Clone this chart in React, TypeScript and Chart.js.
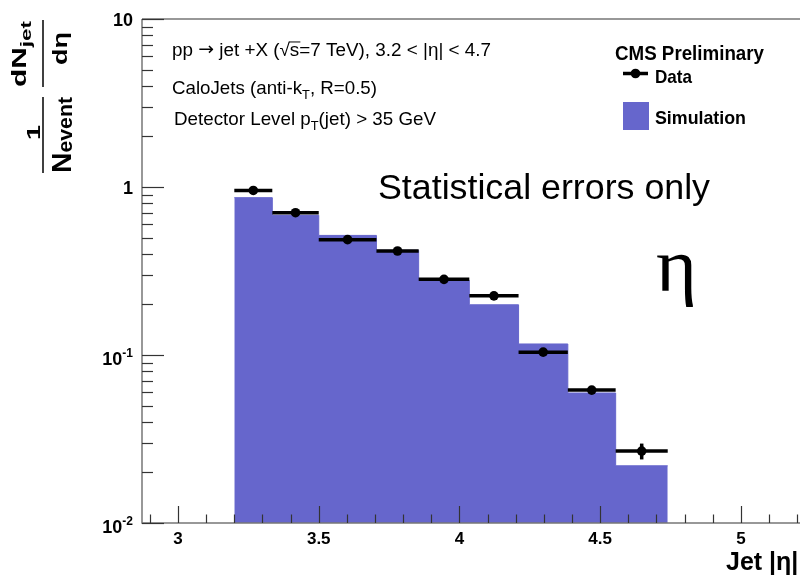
import React, { useEffect, useRef } from "react";
import { Chart, registerables } from "chart.js";

Chart.register(...registerables);

// ---- data ----
const binEdges = [3.2, 3.335, 3.5, 3.705, 3.855, 4.035, 4.21, 4.385, 4.555, 4.74];
const simValues = [0.864, 0.678, 0.515, 0.42, 0.278, 0.199, 0.1163, 0.0594, 0.0219];
const dataValues = [0.954, 0.703, 0.486, 0.416, 0.282, 0.225, 0.104, 0.0618, 0.0268];
const dataErrors = [0.004, 0.004, 0.003, 0.003, 0.002, 0.002, 0.0012, 0.0009, 0.0029];
const xTickValues = [3, 3.5, 4, 4.5, 5];
const xTickLabels = ["3", "3.5", "4", "4.5", "5"];
const yMajorTicks = [0.01, 0.1, 1, 10];
const yTickBase = ["10", "10", "1", "10"];
const yTickExp = ["-2", "-1", "", ""];

const X_MIN = 2.872;
const X_MAX = 5.21;
const Y_MIN = 0.01;
const Y_MAX = 10;

const SANS = '"Liberation Sans", Arial, Helvetica, sans-serif';
const SERIF = '"Liberation Serif", "Times New Roman", serif';
const DEJAVU = '"DejaVu Sans", sans-serif';
const SIM_COLOR = "rgb(102,102,204)";

type Seg = { t: string; size: number; bold?: boolean; dy?: number; family?: string; overline?: boolean };

function fontOf(s: Seg) {
  return `${s.bold ? "bold " : ""}${s.size}px ${s.family || SANS}`;
}

function drawRich(
  ctx: CanvasRenderingContext2D,
  segs: Seg[],
  x: number,
  y: number,
  targetW?: number,
  align: "left" | "right" | "center" = "left"
) {
  const widths = segs.map((s) => {
    ctx.font = fontOf(s);
    return ctx.measureText(s.t).width;
  });
  const total = widths.reduce((a, b) => a + b, 0);
  const sx = targetW ? targetW / total : 1;
  ctx.save();
  ctx.translate(x, y);
  ctx.scale(sx, 1);
  ctx.textBaseline = "alphabetic";
  ctx.textAlign = "left";
  let cx = align === "right" ? -total : align === "center" ? -total / 2 : 0;
  segs.forEach((s, i) => {
    ctx.font = fontOf(s);
    ctx.fillText(s.t, cx, s.dy || 0);
    if (s.overline) {
      ctx.beginPath();
      ctx.lineWidth = 1;
      const oy = (s.dy || 0) - s.size * 0.78;
      ctx.moveTo(cx - 1, oy);
      ctx.lineTo(cx + widths[i] + 1, oy);
      ctx.stroke();
    }
    cx += widths[i];
  });
  ctx.restore();
}

const decorPlugin = {
  id: "rootDecor",
  beforeDatasetDraw(chart: any, args: any) {
    if (args.index !== 0) return;
    const ctx: CanvasRenderingContext2D = chart.ctx;
    const xs = chart.scales.x;
    const ys = chart.scales.y;
    ctx.save();
    ctx.strokeStyle = "#000";
    ctx.lineWidth = 3.5;
    dataValues.forEach((v, i) => {
      const y = ys.getPixelForValue(v);
      ctx.beginPath();
      ctx.moveTo(xs.getPixelForValue(binEdges[i]), y);
      ctx.lineTo(xs.getPixelForValue(binEdges[i + 1]), y);
      ctx.stroke();
      const xc = xs.getPixelForValue((binEdges[i] + binEdges[i + 1]) / 2);
      ctx.beginPath();
      ctx.moveTo(xc, ys.getPixelForValue(v + dataErrors[i]));
      ctx.lineTo(xc, ys.getPixelForValue(v - dataErrors[i]));
      ctx.stroke();
    });
    ctx.restore();
  },
  afterDraw(chart: any) {
    const ctx: CanvasRenderingContext2D = chart.ctx;
    const xs = chart.scales.x;
    const ys = chart.scales.y;
    const a = chart.chartArea;
    ctx.save();
    // frame
    ctx.strokeStyle = "#777";
    ctx.lineWidth = 1.5;
    ctx.beginPath();
    ctx.moveTo(a.left, a.top);
    ctx.lineTo(a.right, a.top);
    ctx.moveTo(a.left, a.top);
    ctx.lineTo(a.left, a.bottom);
    ctx.lineTo(a.right, a.bottom);
    ctx.stroke();

    // x ticks (inside)
    ctx.strokeStyle = "#333";
    ctx.lineWidth = 1.2;
    for (let k = Math.ceil(X_MIN * 10); k <= Math.floor(X_MAX * 10); k++) {
      const px = Math.round(xs.getPixelForValue(k / 10)) + 0.5;
      const len = k % 5 === 0 ? 17 : 8.5;
      ctx.beginPath();
      ctx.moveTo(px, a.bottom);
      ctx.lineTo(px, a.bottom - len);
      ctx.stroke();
    }
    // y ticks (inside)
    yMajorTicks.forEach((d, i) => {
      const py = Math.round(ys.getPixelForValue(d)) + 0.5;
      ctx.beginPath();
      ctx.moveTo(a.left, py);
      ctx.lineTo(a.left + 22, py);
      ctx.stroke();
      if (i < yMajorTicks.length - 1) {
        for (let m = 2; m <= 9; m++) {
          const pm = Math.round(ys.getPixelForValue(m * d)) + 0.5;
          ctx.beginPath();
          ctx.moveTo(a.left, pm);
          ctx.lineTo(a.left + 11, pm);
          ctx.stroke();
        }
      }
    });

    ctx.fillStyle = "#000";
    ctx.strokeStyle = "#000";
    // x tick labels
    xTickValues.forEach((v, i) => {
      drawRich(ctx, [{ t: xTickLabels[i], size: 17, bold: true }], xs.getPixelForValue(v), a.bottom + 21, undefined, "center");
    });
    // y tick labels
    yMajorTicks.forEach((d, i) => {
      const py = ys.getPixelForValue(d);
      const segs: Seg[] = [{ t: yTickBase[i], size: 18, bold: true, dy: 0 }];
      if (yTickExp[i]) segs.push({ t: yTickExp[i], size: 12, bold: true, dy: -8 });
      drawRich(ctx, segs, 133, py + (yTickExp[i] ? 10 : 7), undefined, "right");
    });

    // x title
    drawRich(ctx, [{ t: "Jet |η|", size: 25, bold: true }], 726, 570);

    // y title (rotated)
    ctx.save();
    ctx.rotate(-Math.PI / 2);
    ctx.lineWidth = 1.5;
    drawRich(
      ctx,
      [
        { t: "dN", size: 20, bold: true },
        { t: "jet", size: 15, bold: true, dy: 5 },
      ],
      -87,
      26,
      66
    );
    ctx.beginPath();
    ctx.moveTo(-87, 43);
    ctx.lineTo(-20, 43);
    ctx.stroke();
    drawRich(ctx, [{ t: "dη", size: 21, bold: true }], -65, 67, 33);
    drawRich(ctx, [{ t: "1", size: 19, bold: true }], -140, 40, 15);
    ctx.beginPath();
    ctx.moveTo(-173, 43);
    ctx.lineTo(-97, 43);
    ctx.stroke();
    drawRich(
      ctx,
      [
        { t: "N", size: 28, bold: true },
        { t: "event", size: 21, bold: true, dy: 1 },
      ],
      -173,
      71,
      76
    );
    ctx.restore();

    // annotations
    drawRich(
      ctx,
      [
        { t: "pp ", size: 18 },
        { t: "→", size: 18, family: DEJAVU, dy: -1 },
        { t: " jet +X (√", size: 18 },
        { t: "s", size: 18, overline: true },
        { t: "=7 TeV), 3.2 < |η| < 4.7", size: 18 },
      ],
      172,
      56,
      319
    );
    drawRich(
      ctx,
      [
        { t: "CaloJets (anti-k", size: 19 },
        { t: "T", size: 13, dy: 5 },
        { t: ", R=0.5)", size: 19 },
      ],
      172,
      94,
      205
    );
    drawRich(
      ctx,
      [
        { t: "Detector Level p", size: 19 },
        { t: "T", size: 13, dy: 5 },
        { t: "(jet) > 35 GeV", size: 19 },
      ],
      174,
      125,
      262
    );
    drawRich(ctx, [{ t: "Statistical errors only", size: 35 }], 378, 199, 332);
    drawRich(ctx, [{ t: "η", size: 76, family: SERIF }], 656, 291, 41);

    // legend
    drawRich(ctx, [{ t: "CMS Preliminary", size: 20, bold: true }], 615, 60, 149);
    ctx.strokeStyle = "#000";
    ctx.lineWidth = 3.5;
    ctx.beginPath();
    ctx.moveTo(623, 73.5);
    ctx.lineTo(648, 73.5);
    ctx.stroke();
    ctx.beginPath();
    ctx.arc(635.5, 73.5, 4.8, 0, Math.PI * 2);
    ctx.fill();
    drawRich(ctx, [{ t: "Data", size: 19, bold: true }], 655, 82.5, 37);
    ctx.fillStyle = SIM_COLOR;
    ctx.fillRect(623, 102, 26, 28);
    ctx.fillStyle = "#000";
    drawRich(ctx, [{ t: "Simulation", size: 19, bold: true }], 655, 124, 91);

    ctx.restore();
  },
};

export default function App() {
  const canvasRef = useRef<HTMLCanvasElement | null>(null);

  useEffect(() => {
    const canvas = canvasRef.current;
    if (!canvas) return;
    const simPoints = binEdges.map((e, i) => ({ x: e, y: simValues[Math.min(i, simValues.length - 1)] }));
    const dataPoints = dataValues.map((v, i) => ({ x: (binEdges[i] + binEdges[i + 1]) / 2, y: v }));
    const chart = new Chart(canvas, {
      type: "line",
      data: {
        datasets: [
          {
            type: "scatter",
            label: "Data",
            data: dataPoints,
            pointRadius: 4.8,
            pointBackgroundColor: "#000",
            pointBorderWidth: 0,
            borderColor: "#000",
            showLine: false,
          } as any,
          {
            type: "line",
            label: "Simulation",
            data: simPoints,
            stepped: "before",
            fill: "start",
            backgroundColor: SIM_COLOR,
            borderColor: SIM_COLOR,
            borderWidth: 1,
            pointRadius: 0,
            tension: 0,
          } as any,
        ],
      },
      options: {
        responsive: false,
        animation: false,
        layout: { autoPadding: false, padding: { left: 142, top: 19, right: 0, bottom: 56 } },
        scales: {
          x: { type: "linear", min: X_MIN, max: X_MAX, display: false },
          y: { type: "logarithmic", min: Y_MIN, max: Y_MAX, display: false },
        },
        plugins: {
          legend: { display: false },
          tooltip: { enabled: false },
        },
        events: [],
      },
      plugins: [decorPlugin],
    });
    return () => chart.destroy();
  }, []);

  return (
    <div style={{ position: "fixed", left: 0, top: 0, width: 800, height: 579, background: "#fff" }}>
      <canvas ref={canvasRef} width={800} height={579} style={{ display: "block" }} />
    </div>
  );
}
